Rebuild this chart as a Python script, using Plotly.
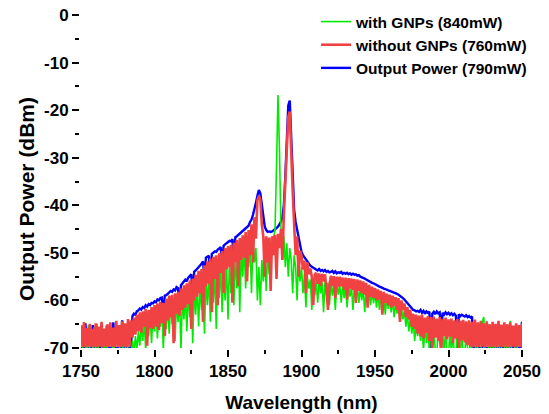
import plotly.graph_objects as go

# wavelength sampling grid (nm), 1 nm step
wavelength = list(range(1750, 2051))

# Output Power (790mW) - blue
output_power = [
    -70, -70, -70, -64.8, -70, -70, -70, -70, -65.2, -70,
    -70, -70, -70, -70, -65, -70, -70, -70, -70, -70,
    -70, -70, -64.6, -70, -70, -70, -70, -70, -64.2, -70,
    -70, -70, -70, -70, -70, -63.3, -62.8, -63.0, -62.3, -62.1,
    -61.7, -61.9, -61.4, -61.6, -61.0, -61.3, -60.8, -61.0, -60.5, -60.6,
    -60.2, -60.4, -59.8, -60.0, -59.5, -59.4, -63.5, -59.0, -58.9, -58.6,
    -58.3, -58.0, -58.2, -57.7, -57.9, -57.2, -57.4, -61.5, -56.8, -56.5,
    -56.0, -55.6, -55.8, -55.2, -54.9, -54.5, -58.5, -54.0, -53.7, -53.4,
    -53.0, -52.6, -52.3, -51.8, -55.5, -51.0, -50.8, -50.6, -57.0, -50.2,
    -50.0, -49.7, -49.8, -49.3, -49.1, -48.8, -52.5, -48.5, -48.2, -48.0,
    -47.8, -47.5, -47.6, -47.1, -51.0, -46.7, -46.5, -46.2, -46.1, -45.8,
    -45.5, -45.2, -44.9, -44.5, -44.3, -43.5, -43.0, -42.0, -41.0, -39.5,
    -38.0, -36.8, -37.5, -40.0, -43.0, -44.5, -45.2, -45.6, -45.5, -45.6,
    -45.5, -45.3, -45.0, -44.8, -44.5, -44.0, -43.5, -42.5, -40.0, -34.0,
    -26.0, -19.0, -18.0, -25.0, -35.0, -41.0, -43.5, -45.0, -47.0, -48.5,
    -49.8, -50.5, -51.0, -51.5, -51.9, -52.3, -52.7, -52.9, -53.1, -53.3,
    -53.4, -53.7, -53.4, -53.8, -53.6, -53.9, -53.6, -54.0, -53.8, -54.1,
    -54.0, -53.8, -54.2, -53.9, -54.3, -54.1, -54.2, -54.0, -54.4, -54.2,
    -54.4, -54.2, -54.5, -54.3, -54.6, -54.4, -54.6, -54.5, -54.8, -54.7,
    -55.0, -55.1, -55.3, -55.4, -55.6, -55.8, -55.9, -56.1, -56.3, -56.4,
    -56.6, -56.8, -56.9, -57.1, -57.2, -57.4, -57.5, -57.6, -57.8, -57.9,
    -58.0, -58.1, -58.2, -58.3, -58.5, -58.6, -58.8, -59.0, -59.2, -59.5,
    -59.8, -60.2, -60.6, -61.0, -61.4, -61.7, -62.0, -62.1, -62.3, -62.2,
    -62.4, -62.0, -62.6, -62.2, -62.8, -62.3, -62.6, -62.4, -70.0, -62.8,
    -62.4, -62.9, -62.3, -62.7, -62.5, -66.5, -62.6, -63.0, -62.5, -62.9,
    -62.6, -63.0, -62.7, -63.1, -62.8, -63.2, -70.0, -62.9, -63.3, -63.0,
    -63.2, -63.4, -63.1, -63.5, -63.3, -63.6, -63.4, -70.0, -70.0, -70.0,
    -70, -70, -70, -70, -65.5, -70, -70, -70, -70, -70,
    -70, -70, -70, -70, -70, -70, -65.6, -70, -70, -70,
    -70, -70, -70, -70, -70, -65.4, -70, -70, -70, -70,
    -64.5,
]

# without GNPs (760mW) - red
without_gnps = [
    -65.2, -69.7, -64.6, -69.8, -65.8, -69.7, -64.9, -69.8, -66.0, -69.7,
    -64.8, -69.8, -65.5, -69.7, -64.5, -69.8, -65.9, -69.7, -65.0, -69.8,
    -64.6, -69.7, -65.7, -69.8, -64.3, -69.7, -65.2, -69.8, -64.4, -69.7,
    -64.8, -69.8, -63.9, -69.7, -64.2, -67.8, -63.6, -67.2, -63.0, -66.5,
    -62.5, -66.8, -62.3, -65.5, -61.8, -69.5, -62.0, -65.8, -61.4, -66.0,
    -61.0, -65.5, -60.6, -66.2, -60.3, -64.8, -60.5, -67.5, -59.6, -64.2,
    -59.0, -63.5, -58.8, -69.0, -58.5, -62.8, -58.2, -63.2, -57.5, -62.0,
    -56.8, -61.5, -56.4, -60.8, -55.8, -66.0, -55.4, -60.0, -54.6, -59.2,
    -53.8, -58.5, -53.4, -64.5, -52.6, -57.0, -51.8, -56.5, -51.2, -62.5,
    -50.8, -55.5, -50.5, -61.0, -50.1, -54.2, -49.6, -58.5, -49.0, -53.5,
    -48.6, -53.0, -48.3, -60.5, -47.9, -52.0, -47.3, -57.0, -46.9, -51.5,
    -46.3, -51.0, -45.6, -56.0, -45.2, -50.5, -44.0, -52.0, -42.5, -47.0,
    -39.0, -38.0, -38.8, -44.0, -46.5, -55.0, -46.5, -52.0, -46.8, -58.0,
    -46.5, -50.5, -46.2, -55.5, -46.0, -49.0, -45.0, -51.5, -42.0, -36.0,
    -28.0, -21.5, -20.3, -27.0, -37.0, -44.0, -50.5, -46.5, -55.0, -49.5,
    -50.6, -53.5, -51.6, -58.5, -52.0, -54.5, -53.3, -55.0, -61.0, -54.6,
    -54.2, -56.5, -54.3, -57.0, -54.4, -56.0, -54.5, -57.5, -62.0, -56.8,
    -54.8, -57.0, -54.9, -59.5, -55.0, -57.2, -55.0, -57.0, -55.2, -57.8,
    -55.2, -59.8, -55.3, -57.5, -55.4, -57.8, -55.5, -60.5, -55.6, -58.0,
    -55.8, -58.5, -56.0, -58.8, -56.3, -61.5, -56.7, -59.2, -57.1, -59.5,
    -57.4, -60.0, -57.7, -59.8, -58.0, -63.0, -58.2, -60.5, -58.6, -61.0,
    -58.8, -61.5, -59.0, -61.2, -59.3, -62.0, -59.5, -64.5, -60.0, -62.0,
    -60.6, -63.5, -61.4, -64.0, -62.0, -65.5, -62.8, -66.0, -63.0, -67.0,
    -63.2, -67.5, -63.0, -68.0, -63.6, -66.8, -63.3, -68.5, -63.5, -70.5,
    -63.4, -67.8, -63.8, -68.5, -63.5, -70.5, -63.9, -67.5, -63.6, -68.2,
    -64.0, -67.6, -63.8, -69.0, -64.2, -68.0, -63.9, -70.5, -64.3, -68.4,
    -64.1, -68.8, -64.4, -69.4, -64.2, -69.7, -64.5, -69.8, -64.0, -69.7,
    -64.6, -69.8, -64.3, -69.7, -64.8, -69.8, -64.4, -69.7, -65.0, -69.8,
    -64.5, -69.7, -64.9, -69.8, -64.3, -69.7, -65.1, -69.8, -64.6, -69.7,
    -65.0, -69.8, -64.6, -69.7, -65.3, -69.8, -64.8, -69.7, -65.2, -69.8,
    -64.8,
]

# with GNPs (840mW) - green
with_gnps = [
    -71.5, -71.5, -64.5, -66.8, -71.5, -65.2, -71.5, -71.5, -71.5, -65.6,
    -71.5, -64.9, -71.5, -71.5, -71.5, -66.0, -71.5, -65.3, -71.5, -71.5,
    -71.5, -71.5, -66.5, -71.5, -71.5, -71.5, -71.5, -65.8, -67.0, -71.5,
    -71.5, -66.2, -71.5, -71.5, -71.5, -68.5, -71.0, -67.5, -70.5, -66.5,
    -69.5, -65.0, -68.5, -64.2, -70.5, -63.5, -67.5, -63.0, -69.0, -62.4,
    -66.5, -62.0, -68.0, -61.8, -65.5, -61.5, -70.5, -61.2, -66.0, -60.8,
    -67.0, -60.5, -65.0, -60.2, -68.5, -59.6, -64.5, -59.3, -70.5, -59.0,
    -64.0, -58.6, -66.5, -58.2, -63.5, -57.8, -69.0, -57.5, -63.0, -57.0,
    -65.5, -56.6, -62.0, -56.0, -67.0, -55.4, -61.0, -54.9, -64.5, -54.5,
    -60.5, -53.8, -66.0, -53.4, -59.5, -53.0, -62.5, -52.6, -60.0, -52.0,
    -64.0, -51.4, -58.5, -50.8, -61.0, -50.0, -57.5, -49.6, -62.5, -49.2,
    -55.0, -48.6, -57.5, -48.2, -53.0, -47.8, -58.5, -47.4, -52.0, -49.0,
    -60.0, -53.0, -61.0, -51.5, -56.0, -50.5, -58.0, -49.5, -54.5, -48.5,
    -50.5, -47.0, -45.0, -32.0, -16.8, -28.0, -44.5, -51.5, -46.5, -53.0,
    -48.0, -55.0, -49.0, -51.5, -58.5, -50.5, -53.0, -60.0, -51.5, -56.0,
    -53.0, -58.5, -54.5, -61.5, -55.0, -57.5, -55.6, -62.0, -55.8, -59.0,
    -56.0, -60.5, -55.9, -58.5, -56.2, -62.5, -56.0, -59.0, -56.3, -61.0,
    -56.4, -59.0, -56.3, -62.0, -56.5, -58.8, -56.6, -60.5, -56.6, -59.5,
    -56.8, -61.5, -56.9, -59.2, -57.0, -62.0, -57.0, -59.6, -57.1, -60.5,
    -57.3, -60.0, -57.4, -62.5, -57.6, -60.2, -57.8, -61.0, -58.0, -60.6,
    -58.2, -61.5, -58.4, -62.0, -58.6, -61.0, -58.9, -63.0, -59.2, -61.8,
    -59.5, -62.5, -59.8, -63.5, -60.3, -62.8, -60.8, -64.5, -61.4, -64.0,
    -62.0, -65.5, -62.8, -66.5, -63.6, -67.0, -64.3, -68.5, -64.8, -67.5,
    -65.0, -68.5, -65.5, -70.5, -65.2, -69.0, -66.0, -71.0, -65.6, -69.5,
    -66.2, -70.5, -71.5, -66.0, -69.0, -71.5, -66.5, -71.0, -66.3, -71.5,
    -71.5, -66.8, -71.0, -67.0, -71.5, -71.5, -66.6, -70.0, -71.5, -67.2,
    -71.0, -71.5, -66.8, -70.2, -71.5, -67.3, -71.5, -71.5, -71.5, -66.5,
    -71.5, -71.5, -71.5, -64.5, -63.5, -71.5, -71.5, -71.5, -65.0, -71.5,
    -71.5, -66.0, -71.5, -71.5, -64.8, -71.5, -71.5, -71.5, -71.5, -65.5,
    -71.5, -71.5, -64.3, -71.5, -71.5, -71.5, -65.2, -71.5, -71.5, -71.5,
    -71.5,
]

x_tick_vals = [1750, 1800, 1850, 1900, 1950, 2000, 2050]
y_tick_vals = [0, -10, -20, -30, -40, -50, -60, -70]

FONT = "Liberation Sans, Arial, sans-serif"

fig = go.Figure()
fig.add_trace(go.Scatter(
    x=wavelength, y=with_gnps, mode="lines", name="<b>with GNPs (840mW)</b>",
    line=dict(color="rgb(0,235,0)", width=1.6), zorder=1,
))
fig.add_trace(go.Scatter(
    x=wavelength, y=without_gnps, mode="lines", name="<b>without GNPs (760mW)</b>",
    line=dict(color="rgb(240,66,66)", width=2.6), zorder=2,
))
fig.add_trace(go.Scatter(
    x=wavelength, y=output_power, mode="lines", name="<b>Output Power (790mW)</b>",
    line=dict(color="rgb(0,0,255)", width=2.4), zorder=0,
))

tick_font = dict(family=FONT, size=17, color="black")

fig.update_layout(
    width=549, height=414,
    margin=dict(l=81, r=27, t=15, b=66, autoexpand=False),
    paper_bgcolor="white", plot_bgcolor="white",
    showlegend=True,
    legend=dict(
        x=0.533, y=1.03, xanchor="left", yanchor="top",
        bgcolor="rgba(0,0,0,0)", borderwidth=0, traceorder="normal",
        font=dict(family=FONT, size=15.5, color="black"),
        tracegroupgap=0,
    ),
    xaxis=dict(
        range=[1750, 2050], tickmode="array", tickvals=x_tick_vals,
        ticktext=["<b>%d</b>" % v for v in x_tick_vals],
        ticks="outside", ticklen=7, tickwidth=2, tickcolor="black",
        showline=True, linewidth=2, linecolor="black",
        showgrid=False, zeroline=False, tickfont=tick_font,
        minor=dict(ticks="outside", ticklen=4, tickwidth=2, tickcolor="black",
                   dtick=25, tick0=1750, showgrid=False),
        title=dict(text="<b>Wavelength (nm)</b>", standoff=15,
                   font=dict(family=FONT, size=19, color="black")),
    ),
    yaxis=dict(
        range=[-70, 0], tickmode="array", tickvals=y_tick_vals,
        ticktext=["<b>%d</b>" % v for v in y_tick_vals],
        ticks="outside", ticklen=7, tickwidth=2, tickcolor="black",
        showline=True, linewidth=2, linecolor="black",
        showgrid=False, zeroline=False, tickfont=tick_font,
        minor=dict(ticks="outside", ticklen=4, tickwidth=2, tickcolor="black",
                   dtick=5, tick0=0, showgrid=False),
    ),
    annotations=[dict(
        text="<b>Output Power (dBm)</b>", textangle=-90,
        xref="paper", yref="paper", x=-0.1248, y=0.447,
        xanchor="center", yanchor="middle", showarrow=False,
        font=dict(family=FONT, size=21, color="black"),
    )],
)

fig.write_html("out.html")
